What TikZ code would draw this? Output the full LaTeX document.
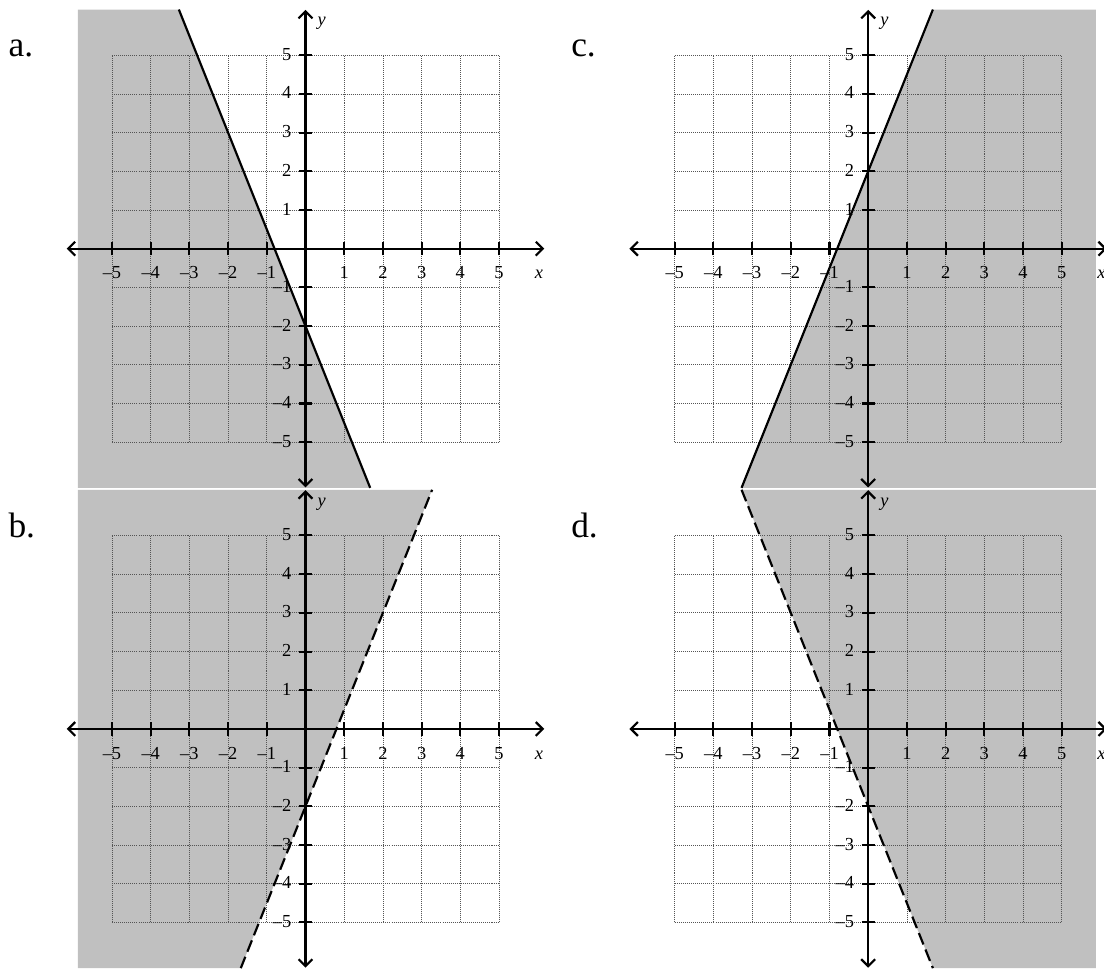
\documentclass[tikz,border=0pt]{standalone}
\usepackage{fontspec}
\setmainfont{Liberation Serif}
\usetikzlibrary{arrows.meta}
\definecolor{shade}{RGB}{192,192,192}
\definecolor{gridline}{RGB}{85,85,85}

% grid, axes, ticks and tick labels of one panel; #1 = panel name
\newcommand{\planeaxes}[1]{%
  \draw[gridlines] (-5,-5) grid (5,5);
  \draw[axis] (-6.17,0) -- (6.17,0);
  \draw[axis] (0,-6.17) -- (0,6.17);
  \foreach \k in {1,...,5} {
    \draw[tickmark] (\k,-0.17) -- (\k,0.17);
    \draw[tickmark] (-\k,-0.17) -- (-\k,0.17);
    \draw[tickmark] (-0.17,\k) -- (0.17,\k);
    \draw[tickmark] (-0.17,-\k) -- (0.17,-\k);
    \node[xlab] (#1-xp\k) at (\k,-0.78) {\k};
    \node[xlab] (#1-xn\k) at (-\k,-0.78) {\textendash\k};
    \node[ylab] (#1-yp\k) at (-0.36,\k-0.13) {\k};
    \node[ylab] (#1-yn\k) at (-0.36,-\k-0.13) {\textendash\k};
  }
  \node[varlab] (#1-xvar) at (6.03,-0.78) {x};
  \node[varlab] (#1-yvar) at (0.42,5.76) {y};
}

\begin{document}
\begin{tikzpicture}[
  every node/.style={font=\fontsize{13.5}{16}\selectfont, inner sep=0pt},
  shaded/.style={fill=shade, draw=none},
  gridlines/.style={draw=gridline, line width=0.55pt, dash pattern=on 0.75pt off 0.75pt},
  axis/.style={line width=1.6pt, <->},
  tickmark/.style={line width=1.5pt},
  xlab/.style={anchor=base},
  ylab/.style={anchor=base east},
  varlab/.style={anchor=base, font=\fontsize{13.5}{16}\selectfont\itshape},
  panellab/.style={anchor=base west, font=\fontsize{26}{30}\selectfont},
  boundary/.style={line width=1.6pt},
  dashedboundary/.style={line width=1.6pt, dash pattern=on 9pt off 4pt},
  >={Straight Barb[length=1.8mm,width=3.6mm]}
]

\useasboundingbox (-7.894,-18.613) rectangle (20.633,6.426);

% Panel a
\begin{scope}
  \fill[shaded] (-5.88,6.18) -- (-3.272,6.18) -- (1.672,-6.18) -- (-5.88,-6.18) -- cycle;
  \planeaxes{a}
  \draw[boundary] (-3.272,6.18) -- (1.672,-6.18);
  \node[panellab] (a-tag) at (-7.68,4.96) {a.};
\end{scope}

% Panel b
\begin{scope}[yshift=-12.41cm]
  \fill[shaded] (-5.88,-6.18) -- (-1.672,-6.18) -- (3.272,6.18) -- (-5.88,6.18) -- cycle;
  \planeaxes{b}
  \draw[dashedboundary] (-1.672,-6.18) -- (3.272,6.18);
  \node[panellab] (b-tag) at (-7.68,4.96) {b.};
\end{scope}

% Panel c
\begin{scope}[xshift=14.54cm]
  \fill[shaded] (-3.272,-6.18) -- (1.672,6.18) -- (5.88,6.18) -- (5.88,-6.18) -- cycle;
  \planeaxes{c}
  \draw[boundary] (-3.272,-6.18) -- (1.672,6.18);
  \node[panellab] (c-tag) at (-7.68,4.96) {c.};
\end{scope}

% Panel d
\begin{scope}[xshift=14.54cm, yshift=-12.41cm]
  \fill[shaded] (-3.272,6.18) -- (5.88,6.18) -- (5.88,-6.18) -- (1.672,-6.18) -- cycle;
  \planeaxes{d}
  \draw[dashedboundary] (-3.272,6.18) -- (1.672,-6.18);
  \node[panellab] (d-tag) at (-7.68,4.96) {d.};
\end{scope}

\end{tikzpicture}
\end{document}
